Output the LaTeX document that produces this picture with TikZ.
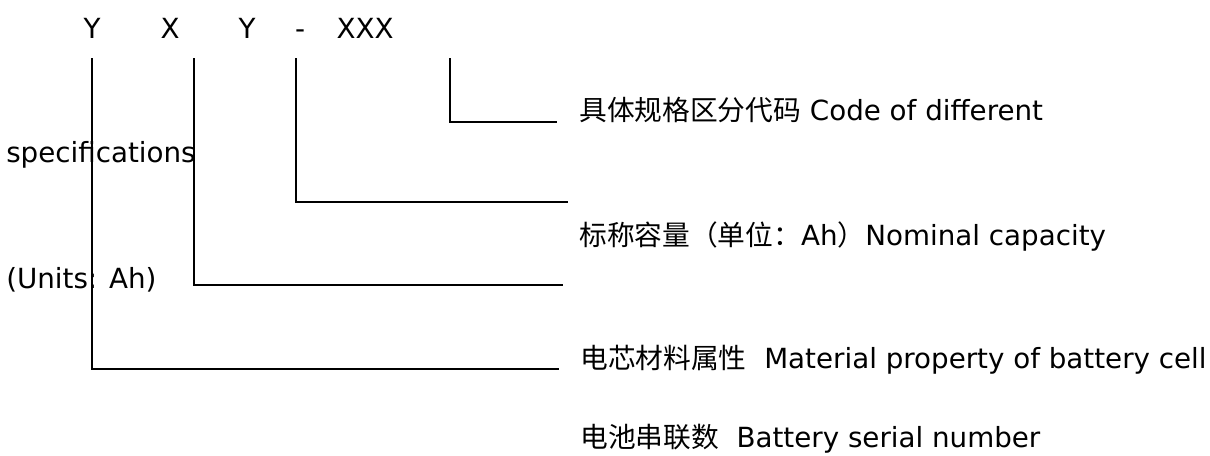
\documentclass[tikz,border=0pt]{standalone}
\usepackage{fontspec}
\setmainfont{DejaVu Sans}
\newfontfamily\cjk{Noto Sans CJK SC}
\begin{document}
\begin{tikzpicture}[x=0.75pt,y=-0.75pt,
  txt/.style={inner sep=0pt, font=\fontsize{20.8}{24}\selectfont},
  lbl/.style={txt, anchor=base west},
  code/.style={txt, anchor=base},
  conn/.style={line width=1.5pt, line join=miter}]
\useasboundingbox (0,0) rectangle (1210,455);
% code letters
\node[code] (c1) at (92,38) {Y};
\node[code] (c2) at (170,38) {X};
\node[code] (c3) at (247,38) {Y};
\node[code] (c4) at (300,38) {-};
\node[code] (c5) at (365,38) {XXX};
% labels
\node[lbl] (l1) at (579,120) {{\cjk 具体规格区分代码} Code of different};
\node[lbl] (l1b) at (6,162) {specifications};
\node[lbl] (l2) at (579,245) {{\cjk 标称容量（单位：}Ah{\cjk ）}Nominal capacity};
\node[lbl] (l2b) at (6,288) {(Units: Ah)};
\node[lbl] (l3) at (580,368) {{\cjk 电芯材料属性}\ \ Material property of battery cell};
\node[lbl] (l4) at (580,447) {{\cjk 电池串联数}\ \ Battery serial number};
% connector endpoints
\coordinate (a1) at (92,58);  \coordinate (b1) at (92,369);  \coordinate (e1) at (559,369);
\coordinate (a2) at (194,58); \coordinate (b2) at (194,285); \coordinate (e2) at (563,285);
\coordinate (a3) at (296,58); \coordinate (b3) at (296,202); \coordinate (e3) at (568,202);
\coordinate (a4) at (450,58); \coordinate (b4) at (450,122); \coordinate (e4) at (557,122);
\draw[conn] (a1) -- (b1) -- (e1);
\draw[conn] (a2) -- (b2) -- (e2);
\draw[conn] (a3) -- (b3) -- (e3);
\draw[conn] (a4) -- (b4) -- (e4);
\end{tikzpicture}
\end{document}
